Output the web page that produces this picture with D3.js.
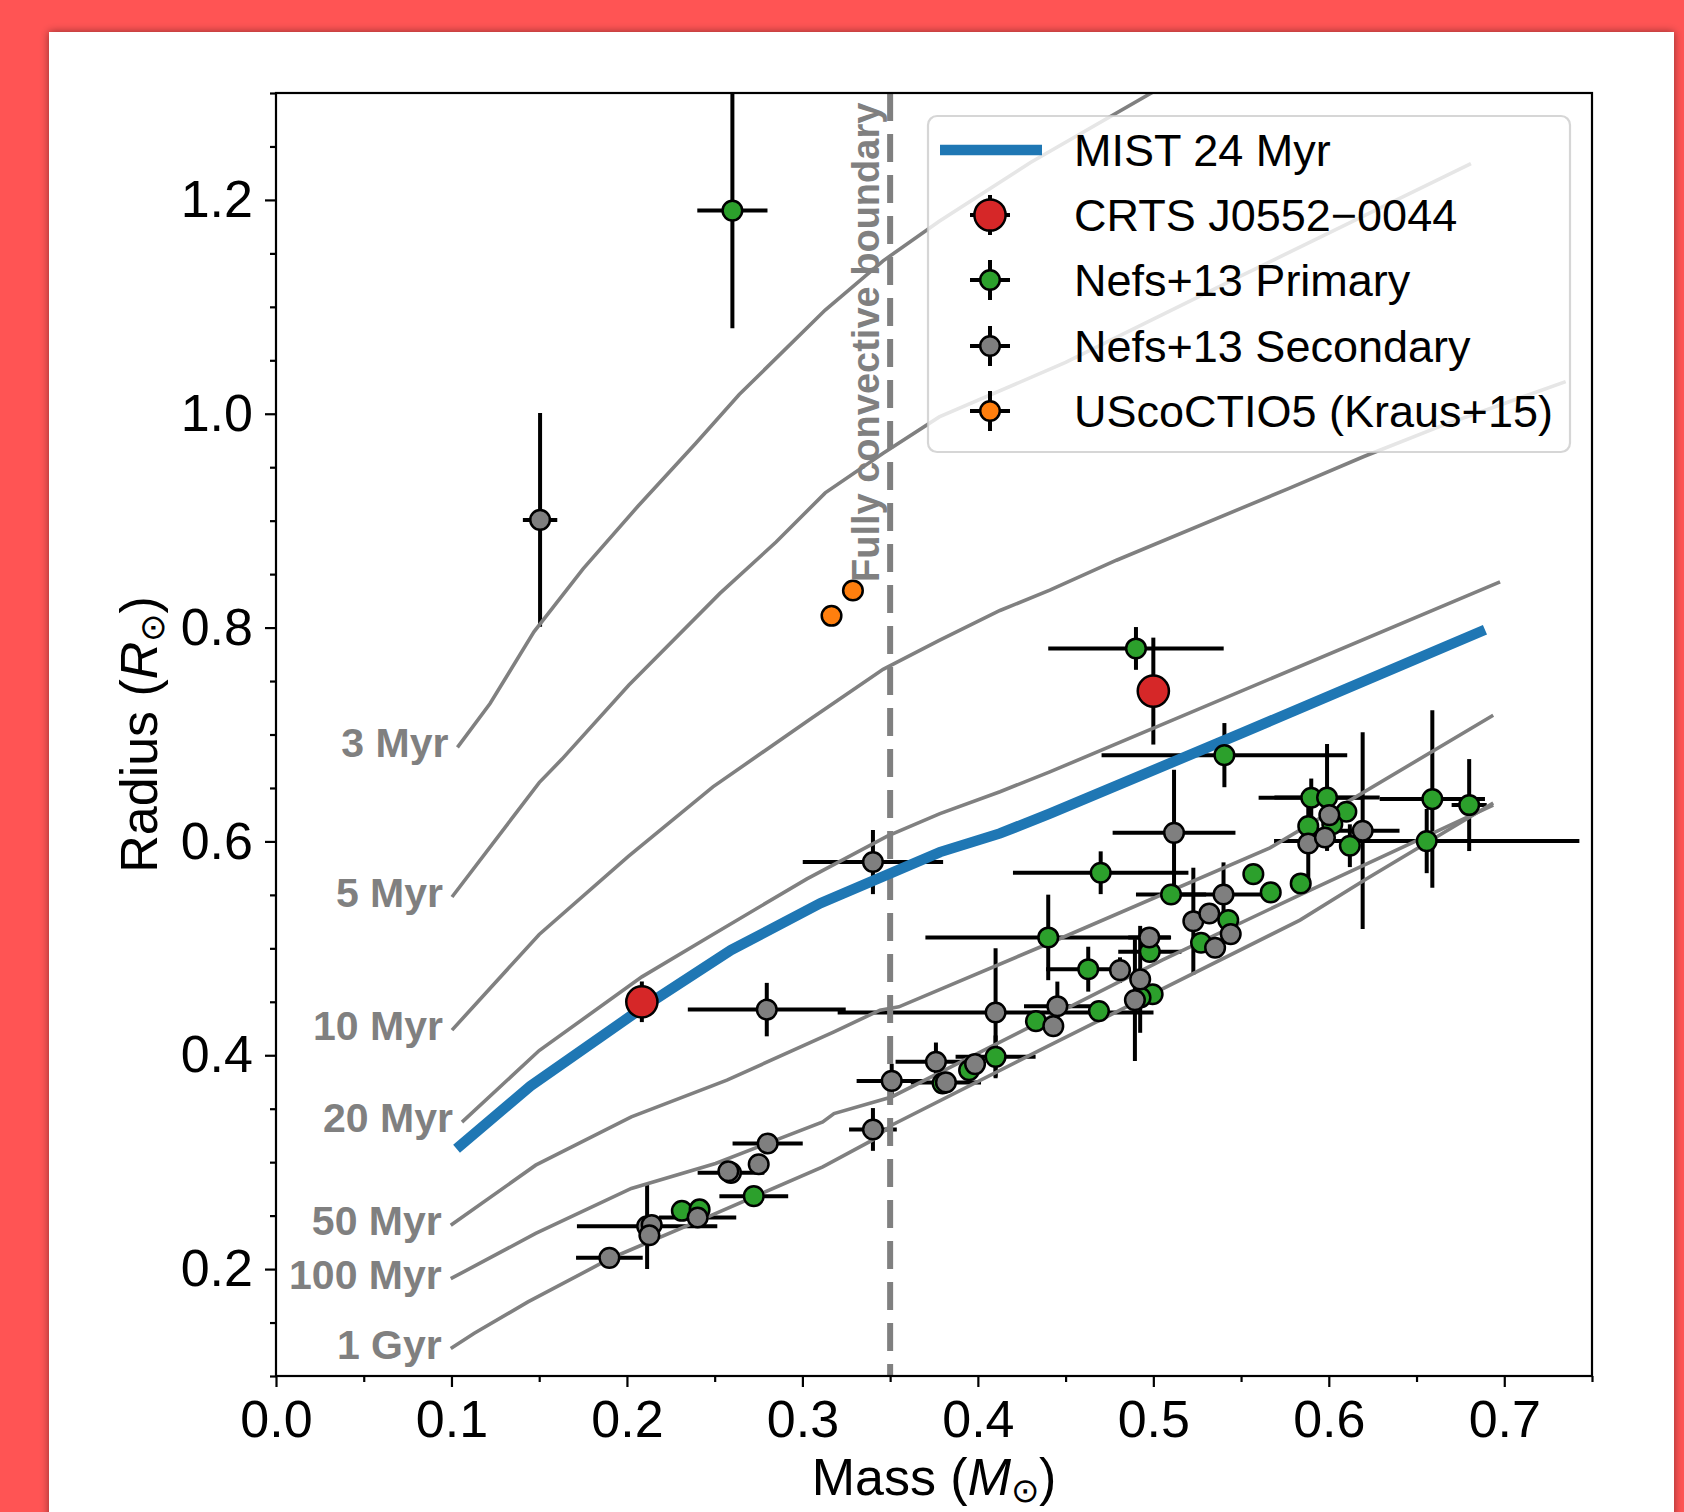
<!DOCTYPE html>
<html><head><meta charset="utf-8">
<script src="https://cdn.jsdelivr.net/npm/d3@7"></script>
<style>body{margin:0;background:#ff5454;} svg{display:block}</style>
</head><body><svg id="c" width="1684" height="1512"></svg>
<script>
// ---- Data ----
const xTicks = [0.0, 0.1, 0.2, 0.3, 0.4, 0.5, 0.6, 0.7];
const xMinorTicks = [0.05, 0.15, 0.25, 0.35, 0.45, 0.55, 0.65, 0.75];
const yTicks = [0.2, 0.4, 0.6, 0.8, 1.0, 1.2];
const yMinorTicks = [0.1, 0.15, 0.25, 0.3, 0.35, 0.45, 0.5, 0.55, 0.65, 0.7, 0.75, 0.85, 0.9, 0.95, 1.05, 1.1, 1.15, 1.25, 1.3];

const isoLabels = ["3 Myr", "5 Myr", "10 Myr", "20 Myr", "50 Myr", "100 Myr", "1 Gyr"];
const iso3Myr = [[0.1034,0.688],[0.122,0.729],[0.147,0.796],[0.175,0.855],[0.206,0.913],[0.239,0.972],[0.264,1.018],[0.313,1.097],[0.346,1.143],[0.378,1.180],[0.43,1.235],[0.52,1.32]];
const iso5Myr = [[0.1003,0.548],[0.150,0.655],[0.163,0.677],[0.201,0.746],[0.253,0.832],[0.285,0.880],[0.313,0.926],[0.346,0.963],[0.378,0.997],[0.45,1.048],[0.55,1.129],[0.681,1.234]];
const iso10Myr = [[0.1003,0.4235],[0.150,0.513],[0.2008,0.586],[0.249,0.651],[0.305,0.715],[0.346,0.761],[0.378,0.788],[0.4126,0.816],[0.441,0.835],[0.479,0.863],[0.577,0.930],[0.620,0.960],[0.663,0.988],[0.735,1.03]];
const iso20Myr = [[0.106,0.3375],[0.150,0.4044],[0.2085,0.4733],[0.249,0.513],[0.3026,0.565],[0.3484,0.605],[0.3784,0.626],[0.4126,0.6465],[0.441,0.665],[0.6976,0.8428]];
const iso50Myr = [[0.0996,0.241],[0.148,0.2972],[0.2025,0.3424],[0.257,0.3767],[0.318,0.4219],[0.3442,0.4422],[0.355,0.4453],[0.441,0.505],[0.5665,0.594],[0.6937,0.718]];
const iso100Myr = [[0.0996,0.191],[0.148,0.2333],[0.2025,0.2754],[0.2505,0.2988],[0.3116,0.3377],[0.318,0.3455],[0.3508,0.361],[0.505,0.489],[0.5836,0.550],[0.6937,0.634]];
const iso1Gyr = [[0.0996,0.1257],[0.113,0.140],[0.1436,0.1693],[0.1905,0.2099],[0.2461,0.2488],[0.3116,0.2956],[0.3399,0.3206],[0.3508,0.3346],[0.4354,0.4048],[0.5836,0.5264],[0.6216,0.565],[0.6937,0.636]];
const isochrones = [iso3Myr, iso5Myr, iso10Myr, iso20Myr, iso50Myr, iso100Myr, iso1Gyr];

const mist24Myr = [[0.1029,0.3125],[0.1449,0.371],[0.2085,0.444],[0.2593,0.4983],[0.3103,0.5422],[0.3784,0.590],[0.4126,0.6075],[0.441,0.626],[0.55,0.701],[0.689,0.798]];

// [mass, radius, massErr, radiusErr]
const crts = [[0.2085,0.450,0,0.019],[0.500,0.7406,0,0.05]];
const nefsPrimary = [
 [0.2601,1.190,0.02,0.11],[0.4901,0.7805,0.05,0.02],[0.5405,0.6807,0.07,0.03],[0.470,0.5707,0.05,0.02],
 [0.5101,0.5504,0.02,0],[0.557,0.5694,0,0],[0.5669,0.5523,0,0],[0.584,0.5607,0,0],
 [0.590,0.6408,0.03,0.018],[0.599,0.6411,0.03,0.05],[0.610,0.6277,0,0],[0.602,0.616,0,0],
 [0.5883,0.6143,0,0],[0.612,0.596,0,0.02],[0.6558,0.6003,0.087,0.03],[0.659,0.6396,0.03,0.083],
 [0.680,0.634,0.01,0.043],[0.4401,0.5102,0.07,0.04],[0.498,0.4967,0.018,0],[0.4629,0.4805,0.024,0.021],
 [0.4996,0.4571,0,0],[0.4927,0.454,0,0],[0.469,0.4413,0,0],[0.4331,0.4319,0,0],
 [0.4101,0.3985,0.0228,0.02],[0.395,0.386,0,0],[0.3799,0.3737,0,0],[0.5427,0.5264,0,0],
 [0.5272,0.5052,0,0],[0.2723,0.2682,0.0196,0],[0.2313,0.2545,0,0],[0.2414,0.2558,0,0]
];
const nefsSecondary = [
 [0.1505,0.9007,0.0098,0.1],[0.3402,0.5807,0.04,0.03],[0.2797,0.4427,0.045,0.025],[0.4101,0.440,0.09,0.06],
 [0.3402,0.3306,0.0136,0.02],[0.3509,0.376,0.02,0.016],[0.3761,0.3939,0.023,0.018],[0.3818,0.3746,0.02,0],
 [0.3984,0.3917,0,0],[0.443,0.4272,0,0],[0.4453,0.4459,0.019,0.023],[0.481,0.4796,0,0.012],
 [0.4925,0.471,0,0.05],[0.4895,0.4516,0,0.057],[0.4977,0.5102,0.012,0],[0.5118,0.608,0.035,0.059],
 [0.540,0.5504,0.032,0.03],[0.5228,0.5254,0,0.05],[0.5319,0.5326,0,0],[0.5441,0.5133,0,0],
 [0.5352,0.5005,0,0],[0.6003,0.6246,0,0],[0.5883,0.598,0,0.034],[0.5978,0.6037,0,0],
 [0.6193,0.610,0.021,0.092],[0.2802,0.3175,0.02,0],[0.2751,0.298,0,0],[0.2593,0.290,0.019,0],
 [0.2578,0.2915,0,0],[0.2403,0.2483,0.022,0],[0.2115,0.2401,0.04,0.04],[0.2141,0.2413,0,0],
 [0.2128,0.2317,0,0],[0.190,0.2105,0.019,0]
];
const uscoCTIO5 = [[0.3166,0.811,0,0],[0.3288,0.8347,0,0]];
const boundaryMass = 0.35;

const legendLabels = ["MIST 24 Myr", "CRTS J0552\u22120044", "Nefs+13 Primary", "Nefs+13 Secondary", "UScoCTIO5 (Kraus+15)"];

// ---- Drawing ----
const FONT = "'Liberation Sans', Arial, sans-serif";
const GRAY = "#808080";
const svg = d3.select("#c");
const defs = svg.append("defs");
const f = defs.append("filter").attr("id","sh").attr("x","-5%").attr("y","-5%").attr("width","110%").attr("height","110%");
f.append("feDropShadow").attr("dx",0).attr("dy",0).attr("stdDeviation",4).attr("flood-color","#000").attr("flood-opacity",0.45);
svg.append("rect").attr("width",1684).attr("height",1512).attr("fill","#ff5454");
svg.append("rect").attr("x",49).attr("y",32).attr("width",1625).attr("height",1520).attr("fill","#fff").attr("filter","url(#sh)");

const L=276, R=1592, T=93, B=1376;
const x = d3.scaleLinear().domain([0,0.75]).range([L,R]);
const y = d3.scaleLinear().domain([0.1,1.3]).range([B,T]);

defs.append("clipPath").attr("id","clip").append("rect").attr("x",L).attr("y",T).attr("width",R-L).attr("height",B-T);
const plot = svg.append("g").attr("clip-path","url(#clip)");
const line = d3.line().x(d=>x(d[0])).y(d=>y(d[1]));

const EBW = 4, MR = 9.8, MSW = 2.5;

// error bars (beneath everything)
const allSeries = [crts, nefsPrimary, nefsSecondary, uscoCTIO5];
const eb = plot.append("g").attr("stroke","#000").attr("stroke-width",EBW);
allSeries.forEach(s => s.forEach(d => {
  if (d[2] > 0) eb.append("line").attr("x1",x(d[0]-d[2])).attr("x2",x(d[0]+d[2])).attr("y1",y(d[1])).attr("y2",y(d[1]));
  if (d[3] > 0) eb.append("line").attr("x1",x(d[0])).attr("x2",x(d[0])).attr("y1",y(d[1]-d[3])).attr("y2",y(d[1]+d[3]));
}));

// isochrones
plot.append("g").selectAll("path").data(isochrones).join("path")
  .attr("d",line).attr("fill","none").attr("stroke",GRAY).attr("stroke-width",3.6);

// fully convective boundary
plot.append("line").attr("x1",x(boundaryMass)).attr("x2",x(boundaryMass)).attr("y1",T).attr("y2",B)
  .attr("stroke",GRAY).attr("stroke-width",6).attr("stroke-dasharray","28,13");

// MIST
plot.append("path").datum(mist24Myr).attr("d",line).attr("fill","none").attr("stroke","#1f77b4").attr("stroke-width",10.5);

function markers(data, color, r){
  plot.append("g").selectAll("circle").data(data).join("circle")
    .attr("cx",d=>x(d[0])).attr("cy",d=>y(d[1])).attr("r",r)
    .attr("fill",color).attr("stroke","#000").attr("stroke-width",MSW);
}
markers(crts, "#d62728", 15.6);
markers(nefsPrimary, "#2ca02c", MR);
markers(nefsSecondary, "#7f7f7f", MR);
markers(uscoCTIO5, "#ff7f0e", MR);

// isochrone labels
svg.append("g").selectAll("text").data(isochrones).join("text")
  .attr("x",d=>x(d[0][0])-9).attr("y",d=>y(d[0][1])+10)
  .attr("text-anchor","end").attr("font-family",FONT).attr("font-weight","bold")
  .attr("font-size",41).attr("fill",GRAY).text((d,i)=>isoLabels[i]);

svg.append("text").attr("transform",`translate(${x(boundaryMass)-11},582) rotate(-90)`)
  .attr("font-family",FONT).attr("font-weight","bold").attr("font-size",38).attr("fill",GRAY)
  .text("Fully convective boundary");

// axes
function styleAxis(g){
  g.select(".domain").remove();
  g.selectAll(".tick line").attr("stroke","#000").attr("stroke-width",2.2);
  g.selectAll("text").attr("font-family",FONT).attr("font-size",52).attr("fill","#000");
}
svg.append("g").attr("transform",`translate(0,${B})`)
  .call(d3.axisBottom(x).tickValues(xTicks).tickFormat(d3.format(".1f")).tickSize(11).tickPadding(13)).call(styleAxis);
svg.append("g").attr("transform",`translate(0,${B})`)
  .call(d3.axisBottom(x).tickValues(xMinorTicks).tickFormat("").tickSize(6)).call(styleAxis);
svg.append("g").attr("transform",`translate(${L},0)`)
  .call(d3.axisLeft(y).tickValues(yTicks).tickFormat(d3.format(".1f")).tickSize(11).tickPadding(12)).call(styleAxis);
svg.append("g").attr("transform",`translate(${L},0)`)
  .call(d3.axisLeft(y).tickValues(yMinorTicks).tickFormat("").tickSize(6)).call(styleAxis);

svg.append("rect").attr("x",L).attr("y",T).attr("width",R-L).attr("height",B-T)
  .attr("fill","none").attr("stroke","#000").attr("stroke-width",2.2);

// axis labels
const xl = svg.append("text").attr("x",(L+R)/2).attr("y",1495).attr("text-anchor","middle")
  .attr("font-family",FONT).attr("font-size",52).attr("fill","#000");
xl.append("tspan").text("Mass (");
xl.append("tspan").attr("font-style","italic").text("M");
xl.append("tspan").attr("font-size",34).attr("dy",7).text("\u2299");
xl.append("tspan").attr("dy",-7).text(")");

const yl = svg.append("text").attr("transform",`translate(157,${(T+B)/2}) rotate(-90)`).attr("text-anchor","middle")
  .attr("font-family",FONT).attr("font-size",52).attr("fill","#000");
yl.append("tspan").text("Radius (");
yl.append("tspan").attr("font-style","italic").text("R");
yl.append("tspan").attr("font-size",34).attr("dy",7).text("\u2299");
yl.append("tspan").attr("dy",-7).text(")");

// legend
const lg = svg.append("g");
lg.append("rect").attr("x",928).attr("y",116).attr("width",642).attr("height",336).attr("rx",9)
  .attr("fill","#fff").attr("fill-opacity",0.8).attr("stroke","#cccccc").attr("stroke-opacity",0.8).attr("stroke-width",2.2);
const rowY = [150, 215, 280, 346, 411];
lg.append("line").attr("x1",940).attr("x2",1042).attr("y1",rowY[0]).attr("y2",rowY[0]).attr("stroke","#1f77b4").attr("stroke-width",10.5);
const legMarks = [["#d62728",15.6],["#2ca02c",MR],["#7f7f7f",MR],["#ff7f0e",MR]];
legMarks.forEach((m,i)=>{
  const cy = rowY[i+1];
  lg.append("line").attr("x1",970).attr("x2",1010).attr("y1",cy).attr("y2",cy).attr("stroke","#000").attr("stroke-width",EBW);
  lg.append("line").attr("x1",990).attr("x2",990).attr("y1",cy-20).attr("y2",cy+20).attr("stroke","#000").attr("stroke-width",EBW);
  lg.append("circle").attr("cx",990).attr("cy",cy).attr("r",m[1]).attr("fill",m[0]).attr("stroke","#000").attr("stroke-width",MSW);
});
lg.selectAll("text").data(legendLabels).join("text").attr("x",1074).attr("y",(d,i)=>rowY[i]+16)
  .attr("font-family",FONT).attr("font-size",45).attr("fill","#000").text(d=>d);
</script></body></html>
